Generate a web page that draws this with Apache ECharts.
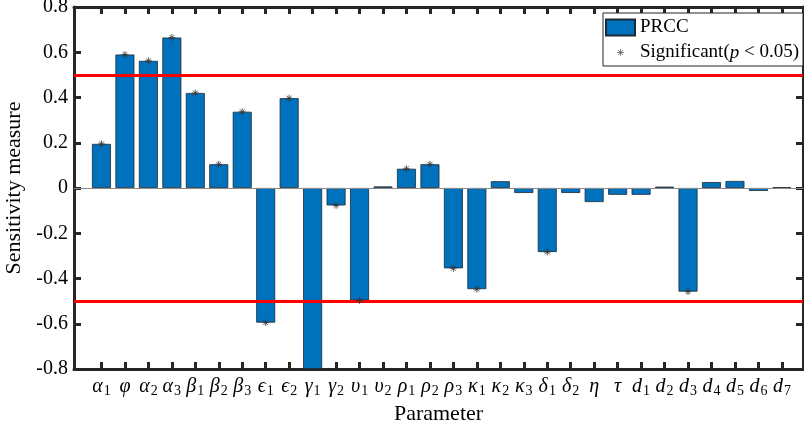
<!DOCTYPE html>
<html>
<head>
<meta charset="utf-8">
<script src="https://cdn.jsdelivr.net/npm/echarts@6/dist/echarts.min.js"></script>
<style>
html,body{margin:0;padding:0;background:#fff;}
#chart{width:804px;height:430px;}
</style>
</head>
<body>
<div id="chart"></div>
<script>
// ---- data ----
const paramSymbols = ['α','φ','α','α','β','β','β','ϵ','ϵ','γ','γ','υ','υ','ρ','ρ','ρ','κ','κ','κ','δ','δ','η','τ','d','d','d','d','d','d','d'];
const paramSubs    = ['1','','2','3','1','2','3','1','2','1','2','1','2','1','2','3','1','2','3','1','2','','','1','2','3','4','5','6','7'];
const prcc = [0.195,0.590,0.562,0.665,0.420,0.105,0.337,-0.595,0.397,-0.800,-0.077,-0.497,0.007,0.085,0.105,-0.355,-0.447,0.030,-0.022,-0.283,-0.022,-0.062,-0.030,-0.030,0.006,-0.458,0.026,0.031,-0.013,0.003];
const significant = [1,1,1,1,1,1,1,1,1,0,1,1,0,1,1,1,1,0,0,1,0,0,0,0,0,1,0,0,0,0];
const thresholds = [0.5, -0.5];

const positions = paramSymbols.map((_, i) => i + 1);
const barData = prcc.map((v, i) => [positions[i], v]);
const starData = prcc.map((v, i) => [positions[i], v]).filter((_, i) => significant[i]);

const FONT = 'Liberation Serif';
const AX = '#262626';
const starPath = 'path://M0 4L8 4M4 0L4 8M1.2 1.2L6.8 6.8M1.2 6.8L6.8 1.2';
const starLegendPath = 'path://M0 0M29 16M11 8L18 8M14.5 4.5L14.5 11.5M12 5.5L17 10.5M12 10.5L17 5.5';

function xLabel(v) {
  const i = Math.round(v) - 1;
  if (i < 0 || i >= paramSymbols.length) return '';
  const s = paramSubs[i];
  return '{g|' + paramSymbols[i] + '}' + (s ? '{s|' + s + '}' : '');
}

const xCommon = {
  type: 'value',
  min: -0.17,
  max: 30.9,
  splitLine: { show: false },
  axisLine: { show: true, onZero: false, lineStyle: { color: AX, width: 3 } },
  axisTick: { show: true, inside: true, length: 7, customValues: positions, lineStyle: { color: AX, width: 3 } },
};

const option = {
  animation: false,
  backgroundColor: '#fff',
  grid: { left: 74, right: 1, top: 7, bottom: 61, containLabel: false, outerBoundsMode: 'none' },
  legend: {
    orient: 'vertical',
    left: 603,
    top: 13,
    padding: [5, 4, 4, 2],
    itemWidth: 29,
    itemHeight: 16,
    itemGap: 6,
    backgroundColor: '#fff',
    borderColor: AX,
    borderWidth: 1,
    borderRadius: 0,
    data: [
      { name: 'PRCC', icon: 'rect' },
      { name: 'Significant', icon: starLegendPath,
        itemStyle: { color: 'transparent', borderColor: '#444', borderWidth: 0.8 } }
    ],
    formatter: function (name) {
      return name === 'Significant' ? '{t|Significant(}{i|p}{t| < 0.05)}' : '{t|' + name + '}';
    },
    textStyle: {
      color: '#000', fontFamily: FONT, fontSize: 19,
      rich: {
        t: { color: '#000', fontFamily: FONT, fontSize: 19 },
        i: { color: '#000', fontFamily: FONT, fontSize: 19, fontStyle: 'italic' }
      }
    }
  },
  xAxis: [
    Object.assign({}, xCommon, {
      position: 'bottom',
      name: 'Parameter',
      nameLocation: 'middle',
      nameGap: 29,
      nameTextStyle: { color: '#000', fontFamily: FONT, fontSize: 22 },
      axisLabel: {
        show: true, margin: 7, customValues: positions, formatter: xLabel,
        rich: {
          g: { color: '#000', fontFamily: FONT, fontSize: 20, fontStyle: 'italic', lineHeight: 22 },
          s: { color: '#000', fontFamily: FONT, fontSize: 14, lineHeight: 22, padding: [9, 0, 0, 1] }
        }
      }
    }),
    Object.assign({}, xCommon, {
      position: 'top',
      axisLabel: { show: false }
    })
  ],
  yAxis: [
    {
      type: 'value',
      position: 'left',
      min: -0.8, max: 0.8, interval: 0.2,
      splitLine: { show: false },
      name: 'Sensitivity measure',
      nameLocation: 'middle',
      nameGap: 42,
      nameTextStyle: { color: '#000', fontFamily: FONT, fontSize: 22 },
      axisLine: { show: true, onZero: false, lineStyle: { color: AX, width: 3 } },
      axisTick: { show: true, inside: true, length: 7, lineStyle: { color: AX, width: 3 } },
      axisLabel: {
        color: '#000', fontFamily: FONT, fontSize: 20, margin: 6,
        formatter: v => (Math.abs(v) < 1e-9 ? '0' : v.toFixed(1))
      }
    },
    {
      type: 'value',
      position: 'right',
      min: -0.8, max: 0.8, interval: 0.2,
      splitLine: { show: false },
      axisLine: { show: true, onZero: false, lineStyle: { color: AX, width: 3 } },
      axisTick: { show: true, inside: true, length: 7, lineStyle: { color: AX, width: 3 } },
      axisLabel: { show: false }
    }
  ],
  series: [
    {
      name: 'PRCC',
      type: 'bar',
      xAxisIndex: 0, yAxisIndex: 0,
      barWidth: 19,
      data: barData,
      itemStyle: { color: '#0072BD', borderColor: '#1d2a36', borderWidth: 0.8 },
      z: 2,
      markLine: {
        silent: true, symbol: 'none', label: { show: false },
        lineStyle: { color: '#8a8a8a', width: 1, type: 'solid' },
        data: [{ yAxis: 0 }]
      }
    },
    {
      name: 'Significant',
      type: 'scatter',
      xAxisIndex: 0, yAxisIndex: 0,
      symbol: starPath,
      symbolSize: 7,
      data: starData,
      itemStyle: { color: '#333', borderColor: '#333', borderWidth: 1 },
      z: 6,
      markLine: {
        silent: true, symbol: 'none', label: { show: false },
        lineStyle: { color: '#ff0000', width: 3, type: 'solid' },
        data: thresholds.map(t => ({ yAxis: t }))
      }
    }
  ]
};

const chart = echarts.init(document.getElementById('chart'), null, { renderer: 'canvas' });
chart.setOption(option);
</script>
</body>
</html>
